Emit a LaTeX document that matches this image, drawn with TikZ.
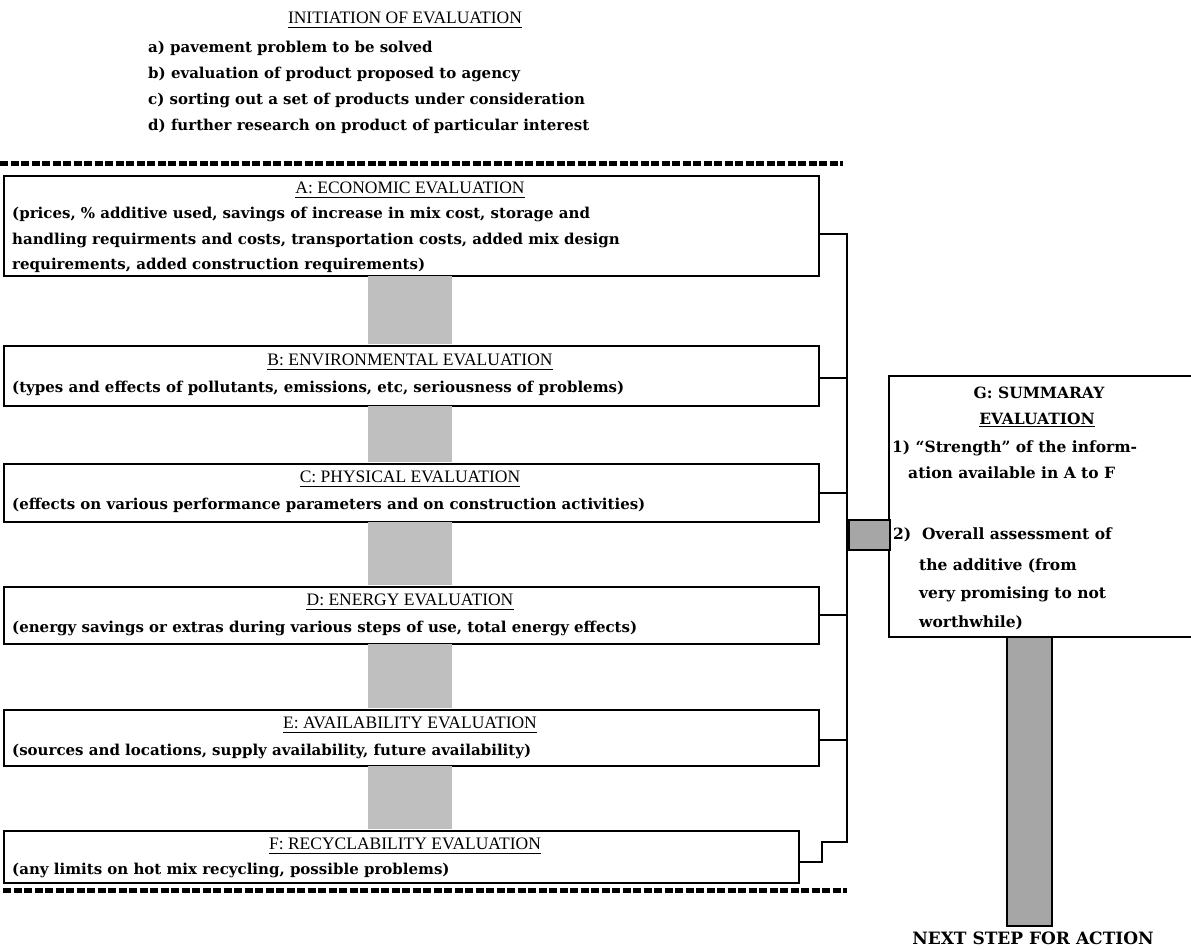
\documentclass[tikz,border=0pt]{standalone}
\usepackage{fontspec}
\setmainfont{DejaVu Serif}
\newfontfamily\headfont{Liberation Serif}
\usetikzlibrary{calc}
\begin{document}
\begin{tikzpicture}[x=1pt,y=-1pt,
  evbox/.style={draw=black, line width=1.8pt, minimum width=815pt, anchor=north west, inner sep=0pt},
  shade/.style={fill=black!25, draw=none},
  shadebox/.style={fill=black!35, draw=black, line width=1.6pt},
  head/.style={font=\headfont\fontsize{17.5}{17.5}\selectfont, anchor=center, inner sep=0pt},
  body/.style={font=\bfseries\fontsize{15}{16}\selectfont, anchor=west, inner sep=0pt},
  gtxt/.style={font=\bfseries\fontsize{15.5}{16}\selectfont, anchor=west, inner sep=0pt},
  conn/.style={draw=black, line width=1.8pt},
  sep/.style={draw=black, line width=5pt, dash pattern=on 8pt off 2.5pt}
]
\useasboundingbox (0,0) rectangle (1191,950);
% ---- initiation ----
\node[head] (t0) at (405,18) {INITIATION OF EVALUATION};
\node[body] (ta) at (148,48) {a) pavement problem to be solved};
\node[body] (tb) at (148,74) {b) evaluation of product proposed to agency};
\node[body] (tc) at (148,100) {c) sorting out a set of products under consideration};
\node[body] (td) at (148,126) {d) further research on product of particular interest};
\coordinate (s1a) at (0,163);
\coordinate (s1b) at (843,163);
\draw[sep] (s1a) -- (s1b);
% ---- boxes ----
\node[evbox, minimum height=100pt] (A) at (3,175) {};
\node[evbox, minimum height=60pt] (B) at (3,345) {};
\node[evbox, minimum height=58pt] (C) at (3,463) {};
\node[evbox, minimum height=57pt] (D) at (3,586) {};
\node[evbox, minimum height=56pt] (E) at (3,709) {};
\node[evbox, minimum height=52pt, minimum width=795pt] (F) at (3,830) {};
% shaded gaps
\fill[shade] (368,276) rectangle (452,344);
\fill[shade] (368,406) rectangle (452,462);
\fill[shade] (368,522) rectangle (452,585);
\fill[shade] (368,644) rectangle (452,708);
\fill[shade] (368,766) rectangle (452,829);
% texts
\node[head] (Ah) at (410,188) {A: ECONOMIC EVALUATION};
\node[body] (A1) at (12,214) {(prices, \% additive used, savings of increase in mix cost, storage and};
\node[body] (A2) at (12,240) {handling requirments and costs, transportation costs, added mix design};
\node[body] (A3) at (12,265) {requirements, added construction requirements)};
\node[head] (Bh) at (410,360) {B: ENVIRONMENTAL EVALUATION};
\node[body] (B1) at (12,388) {(types and effects of pollutants, emissions, etc, seriousness of problems)};
\node[head] (Ch) at (410,477) {C: PHYSICAL EVALUATION};
\node[body] (C1) at (12,505) {(effects on various performance parameters and on construction activities)};
\node[head] (Dh) at (410,600) {D: ENERGY EVALUATION};
\node[body] (D1) at (12,628) {(energy savings or extras during various steps of use, total energy effects)};
\node[head] (Eh) at (410,723) {E: AVAILABILITY EVALUATION};
\node[body] (E1) at (12,751) {(sources and locations, supply availability, future availability)};
\node[head] (Fh) at (405,844) {F: RECYCLABILITY EVALUATION};
\node[body] (F1) at (12,870) {(any limits on hot mix recycling, possible problems)};
\foreach \n in {t0,Ah,Bh,Ch,Dh,Eh,Fh}{\draw[line width=1pt] ($(\n.south west)+(0,3)$) -- ($(\n.south east)+(0,3)$);}
\coordinate (s2a) at (3,890);
\coordinate (s2b) at (847,890);
\draw[sep] (s2a) -- (s2b);
% ---- bus ----
\coordinate (bA) at (847,234);
\coordinate (bB) at (847,378);
\coordinate (bC) at (847,493);
\coordinate (bD) at (847,615);
\coordinate (bE) at (847,740);
\coordinate (bJ) at (847,842);
\coordinate (bJ2) at (822,842);
\coordinate (bF) at (822,862);
\draw[conn] (A.east |- bA) -- (bA) -- (bJ) -- (bJ2) -- (bF) -- (F.east |- bF);
\foreach \b/\n in {bB/B,bC/C,bD/D,bE/E}{\draw[conn] (\n.east |- \b) -- (\b);}
% ---- G box ----
\node[draw=black, line width=1.8pt, anchor=north west, minimum width=320pt, minimum height=261pt, inner sep=0pt] (G) at (888,375) {};
\node[shadebox, anchor=north west, minimum width=41pt, minimum height=30pt, inner sep=0pt] (Gc) at (848,519) {};
\node[gtxt, anchor=center] (Gh1) at (1039,393) {G: SUMMARAY};
\node[gtxt, anchor=center] (Gh2) at (1037,420) {\underline{EVALUATION}};
\node[gtxt] (G1) at (892,448) {1) ``Strength'' of the inform-};
\node[gtxt] (G2) at (908,473) {ation available in A to F};
\node[gtxt] (G3) at (893,535) {2)\ \ Overall assessment of};
\node[gtxt] (G4) at (919,566) {the additive (from};
\node[gtxt] (G5) at (919,594) {very promising to not};
\node[gtxt] (G6) at (919,623) {worthwhile)};
\node[shadebox, anchor=north west, minimum width=45pt, minimum height=289pt, inner sep=0pt] (bar) at (1006,636) {};
\node[font=\bfseries\fontsize{17}{17}\selectfont, inner sep=0pt] (next) at (1033,938) {NEXT STEP FOR ACTION};
\end{tikzpicture}
\end{document}
